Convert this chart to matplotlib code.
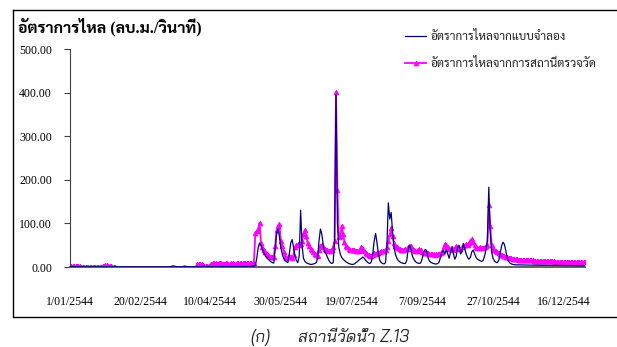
import numpy as np
import pandas as pd
import matplotlib
matplotlib.use("Agg")
import matplotlib.pyplot as plt

nan = float("nan")

# daily discharge, year 2544 (2001), m3/s
flow_model = [
    # Jan
    0.6, 0.6, 0.5, 0.5, 0.5, 0.5, 0.5, 0.4, 0.4, 0.4, 0.4, 0.4, 0.4, 0.4, 0.3, 0.3,
    0.3, 0.3, 0.3, 0.3, 0.3, 0.3, 0.3, 0.3, 0.3, 0.3, 0.3, 0.3, 0.3, 0.3, 0.3,
    # Feb
    0.3, 0.3, 0.3, 0.3, 0.3, 0.3, 0.3, 0.3, 0.3, 0.3, 0.3, 0.3, 0.3, 0.3,
    0.2, 0.2, 0.2, 0.2, 0.2, 0.2, 0.2, 0.2, 0.2, 0.2, 0.2, 0.2, 0.2, 0.2,
    # Mar
    0.2, 0.2, 0.2, 0.2, 0.2, 0.2, 0.2, 0.2, 0.2, 0.2, 0.2, 0.3, 0.8, 2.0, 2.6, 1.8,
    1.0, 0.6, 0.5, 0.4, 0.4, 1.2, 2.2, 1.5, 0.8, 0.5, 0.4, 0.4, 0.3, 0.3, 0.3,
    # Apr
    0.3, 0.4, 0.6, 1.0, 1.4, 1.0, 0.7, 0.5, 0.5, 0.4, 0.4, 0.4, 0.5, 0.6, 0.8,
    0.7, 0.6, 0.5, 0.5, 0.4, 0.4, 0.4, 0.4, 0.5, 0.6, 0.7, 0.6, 0.5, 0.5, 0.5,
    # May
    0.5, 0.5, 0.6, 0.6, 0.7, 0.8, 0.9, 1.0, 1.2, 1.5, 2.0, 3.0, 20, 45, 55, 50,
    40, 32, 26, 22, 18, 15, 12, 10, 9, 40, 75, 88, 70, 45, 30,
    # Jun
    20, 15, 12, 10, 30, 55, 63, 45, 25, 15, 10, 25, 130, 50, 20,
    13, 10, 8, 7, 6, 6, 7, 8, 10, 20, 60, 87, 75, 50, 35,
    # Jul
    30, 22, 15, 10, 8, 10, 60, 395, 100, 45, 30, 22, 18, 15, 12, 10,
    8, 7, 6, 6, 7, 10, 12, 15, 18, 20, 23, 20, 15, 12, 9,
    # Aug
    8, 12, 30, 60, 77, 55, 30, 15, 10, 8, 7, 10, 50, 147, 110, 125,
    80, 45, 30, 20, 15, 12, 10, 9, 8, 8, 15, 40, 50, 40, 25,
    # Sep
    18, 13, 10, 9, 8, 10, 20, 35, 40, 38, 22, 14, 11, 9, 8,
    7, 7, 8, 12, 25, 35, 38, 30, 40, 30, 20, 35, 46, 30, 18,
    # Oct
    25, 45, 50, 30, 35, 54, 42, 30, 22, 18, 22, 35, 39, 30, 22, 18,
    16, 14, 13, 15, 25, 40, 60, 183, 80, 35, 20, 14, 11, 10, 15,
    # Nov
    30, 48, 57, 52, 38, 22, 13, 9, 7, 6, 5.5, 5, 5, 5, 4.8,
    4.8, 4.6, 4.6, 4.5, 4.5, 4.4, 4.4, 4.3, 4.3, 4.2, 4.2, 4.1, 4.1, 4.0, 4.0,
    # Dec
    4.0, 3.9, 3.9, 3.8, 3.8, 3.7, 3.7, 3.6, 3.6, 3.5, 3.5, 3.5, 3.4, 3.4, 3.4, 3.3,
    3.3, 3.3, 3.2, 3.2, 3.2, 3.1, 3.1, 3.1, 3.0, 3.0, 3.0, 3.0, 2.9, 2.9, 2.9,
]

flow_obs = [
    # Jan
    1.5, 1.4, 1.4, 1.3, 1.3, 1.2, 1.2, 1.2, 1.1, 1.1, 1.1, 1.0, 1.0, 1.0, 1.0, 1.0,
    1.0, 0.9, 0.9, 0.9, 0.9, 0.9, 0.9, 1.5, 2.5, 3.5, 4.0, 2.5, 1.5, 1.2, 1.0,
    # Feb
    1.0, 0.9, nan, nan, nan, nan, nan, nan, nan, nan, nan, nan, nan, nan,
    nan, nan, nan, nan, nan, nan, nan, nan, nan, nan, nan, nan, nan, nan,
    # Mar
    nan, nan, nan, nan, nan, nan, nan, nan, nan, nan, nan, nan, nan, nan, nan, nan,
    nan, nan, nan, nan, nan, nan, nan, nan, nan, nan, nan, nan, nan, nan, nan,
    # Apr
    8, 7, 7.5, 6, 5, 3, 2, 1.5, 2, 4, 8, 9, 10, 9, 8,
    9, 10, 9, 8, 8, 9, 9, 8, 8, 9, 9, 8, 8, 9, 9,
    # May
    9, 9, 9, 9, 9, 9, 9, 9, 9, 9, 10, 78, 82, 88, 102, 55,
    45, 40, 35, 30, 27, 25, 24, 23, 22, 48, 85, 95, 98, 60, 48,
    # Jun
    35, 25, 20, 22, 26, 24, 20, 28, 45, 50, 52, 50, 52, 60, 75,
    85, 70, 55, 48, 42, 38, 35, 30, 27, 25, 40, 48, 50, 45, 42,
    # Jul
    40, 38, 37, 37, 40, 45, 60, 401, 177, 69, 70, 94, 75, 58, 48, 45,
    42, 40, 39, 38, 38, 37, 37, 37, 40, 47, 42, 37, 33, 30, 28,
    # Aug
    26, 25, 28, 33, 30, 32, 33, 35, 36, 37, 37, 38, 45, 60, 75, 89,
    71, 55, 48, 45, 43, 42, 40, 40, 39, 41, 42, 45, 48, 48, 42,
    # Sep
    40, 37, 37, 40, 42, 38, 35, 33, 33, 32, 31, 30, 29, 29, 29,
    28, 29, 29, 30, 32, 35, 45, 53, 50, 45, 42, 41, 44, 40, 44,
    # Oct
    48, 44, 44, 42, 45, 48, 50, 52, 50, 55, 60, 64, 58, 50, 46, 44,
    44, 46, 44, 44, 46, 48, 50, 143, 95, 50, 44, 40, 37, 35, 33,
    # Nov
    30, 28, 26, 25, 23, 22, 21, 20, 20, 19, 19, 18, 18, 17, 17,
    17, 16, 16, 16, 15, 15, 15, 15, 15, 14, 14, 14, 14, 14, 14,
    # Dec
    14, 14, 13, 13, 13, 13, 13, 13, 13, 12.5, 12.5, 12.5, 12.5, 12.5, 12.5, 12,
    12, 12, 12, 12, 12, 12, 11.5, 11.5, 11.5, 11.5, 11.5, 11.5, 11, 11, 11,
]

date_labels = ["1/01/2544", "20/02/2544", "10/04/2544", "30/05/2544",
               "19/07/2544", "7/09/2544", "27/10/2544", "16/12/2544"]
y_ticks = [0, 100, 200, 300, 400, 500]

label_model = "อัตราการไหลจากแบบจำลอง"
label_obs = "อัตราการไหลจากการสถานีตรวจวัด"
y_title = "อัตราการไหล (ลบ.ม./วินาที)"
caption_no = "(ก)"
caption = "สถานีวัดน้ำ Z.13"


def thai_date(s):
    # d/mm/yyyy in Buddhist era -> Timestamp
    d, m, y = s.split("/")
    return pd.Timestamp(int(y) - 543, int(m), int(d))


days = pd.date_range("2001-01-01", periods=len(flow_model), freq="D")
model = np.array(flow_model, dtype=float)
obs = np.array(flow_obs, dtype=float)

W, H = 617, 347
fig = plt.figure(figsize=(W / 100, H / 100), dpi=100)

# background axes holding the outer chart frame (open on the right)
bg = fig.add_axes([0, 0, 1, 1])
bg.set_xlim(0, W)
bg.set_ylim(H, 0)
bg.axis("off")
bg.plot([12.5, 12.5, W + 5], [9.5, 317, 317], color="black", lw=1.0)
bg.plot([12.5, W + 5], [9.5, 9.5], color="black", lw=1.0)

ax = fig.add_axes([70 / W, 1 - 267 / H, (585 - 70) / W, (267 - 49) / H])
ax.patch.set_alpha(0)

num_font = ["Liberation Serif", "Noto Serif Thai"]
thai_font = ["Sarabun", "Liberation Serif"]

l_obs, = ax.plot(days, obs, color="#FF00FF", lw=1.3, marker="^", ms=3.4,
                 mew=0.6, zorder=2)
l_mod, = ax.plot(days, model, color="#000080", lw=0.9, zorder=3)

ax.set_xlim(days[0], days[-1])
ax.set_ylim(0, 500)
ax.set_yticks(y_ticks)
ax.set_yticklabels([f"{v:.2f}" for v in y_ticks], family=num_font, fontsize=8.5)
ax.set_xticks([thai_date(s) for s in date_labels])
ax.set_xticklabels(date_labels, family=num_font, fontsize=8.5)
ax.tick_params(axis="y", length=4, width=0.8, color="#404040", pad=9)
ax.tick_params(axis="x", length=0, pad=21)

for side in ["top", "right"]:
    ax.spines[side].set_visible(False)
ax.spines["left"].set_color("#404040")
ax.spines["left"].set_linewidth(0.8)
ax.spines["bottom"].set_color("#606060")
ax.spines["bottom"].set_linewidth(1.4)

ax.legend([l_mod, l_obs], [label_model, label_obs], loc="upper left",
          bbox_to_anchor=(405 / W, 1 - 31 / H), bbox_transform=fig.transFigure,
          frameon=False, prop={"family": thai_font, "size": 8.5},
          labelcolor="#222222", handlelength=1.8, handletextpad=0.4,
          labelspacing=1.3, borderpad=0, borderaxespad=0)

fig.text(18 / W, 1 - 27 / H, y_title, family=["Liberation Serif", "Sarabun"],
         fontweight="bold", fontsize=11.5, va="center", ha="left")

fig.text(250 / W, 1 - 337 / H, caption_no, family=["Bai Jamjuree"],
         style="italic", fontsize=12, va="center", ha="left", color="#222222")
fig.text(298 / W, 1 - 337 / H, caption, family=["Bai Jamjuree"],
         style="italic", fontsize=12, va="center", ha="left", color="#222222")

fig.savefig("out.png", dpi=100)
